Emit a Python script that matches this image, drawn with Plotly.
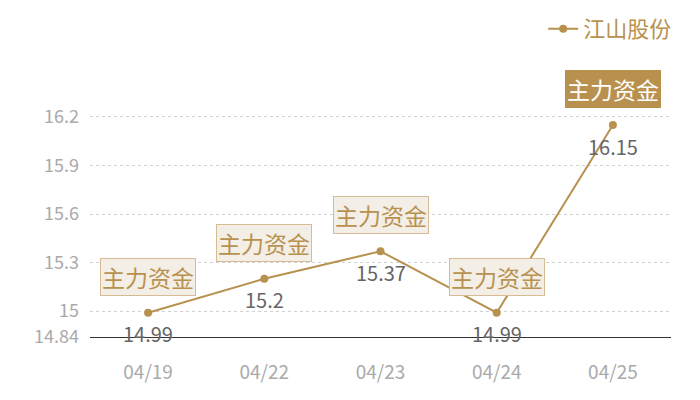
import plotly.graph_objects as go

# data
dates = ['04/19', '04/22', '04/23', '04/24', '04/25']
prices = [14.99, 15.2, 15.37, 14.99, 16.15]
price_labels = ['14.99', '15.2', '15.37', '14.99', '16.15']
tag_text = '主力资金'
y_ticks = [14.84, 15, 15.3, 15.6, 15.9, 16.2, 16.305]
y_tick_labels = ['14.84', '15', '15.3', '15.6', '15.9', '16.2', '']

gold = '#b8914f'
font = 'Noto Sans CJK SC'

fig = go.Figure()
fig.add_trace(go.Scatter(
    x=dates, y=prices, name='江山股份',
    mode='lines+markers',
    line=dict(color=gold, width=2),
    marker=dict(color=gold, size=8),
))

# value labels below and tag boxes above each point, the last tag highlighted
for i, (d, p, lab) in enumerate(zip(dates, prices, price_labels)):
    last = i == len(dates) - 1
    fig.add_annotation(
        x=d, y=p, text=lab, showarrow=False, yshift=-21,
        font=dict(size=20, family=font, color='#666666'),
    )
    fig.add_annotation(
        x=d, y=p, text=tag_text, showarrow=False,
        yshift=36,
        font=dict(size=23, family=font, color='white' if last else gold),
        bgcolor=gold if last else '#f3eee6',
        bordercolor=gold if last else '#d6bc94',
        borderwidth=1, borderpad=1,
    )

# page body adds 8px, so the figure is 692x392
fig.update_layout(
    width=692, height=392,
    margin=dict(l=82, r=29, t=92, b=63, autoexpand=False),
    paper_bgcolor='white', plot_bgcolor='white',
    font=dict(family=font),
    showlegend=True,
    legend=dict(xref='container', x=0.967, xanchor='right',
                yref='container', y=1.0, yanchor='top',
                font=dict(size=22, color=gold, family=font),
                itemwidth=30),
    xaxis=dict(range=[-0.5, 4.5], showgrid=False, showline=True,
               linecolor='#333333', linewidth=1, ticks='', ticklabelstandoff=18,
               tickfont=dict(size=19, color='#aaaaaa', family=font)),
    yaxis=dict(range=[14.84, 16.305], tickvals=y_ticks, ticktext=y_tick_labels,
               showgrid=True, gridcolor='#d0d0d0', griddash='dot', zeroline=False,
               ticks='', ticklabelstandoff=10,
               tickfont=dict(size=18, color='#aaaaaa', family=font)),
)

fig.write_html("out.html")
